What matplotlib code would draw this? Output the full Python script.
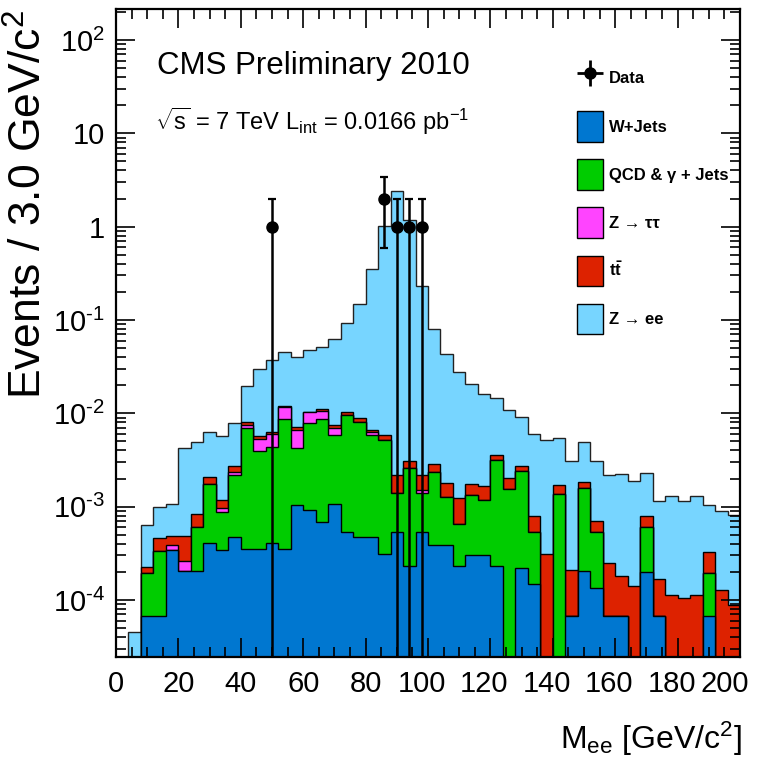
import numpy as np
import matplotlib
matplotlib.use("Agg")
import matplotlib.pyplot as plt
import matplotlib.transforms as mtransforms
from matplotlib.lines import Line2D
from matplotlib.patches import Patch
from matplotlib.legend_handler import HandlerTuple
from matplotlib.font_manager import FontProperties
from matplotlib.ticker import MultipleLocator, FixedLocator, FixedFormatter, NullFormatter, LogLocator

FAMILY = ["Liberation Sans", "DejaVu Sans"]
plt.rcParams["font.family"] = FAMILY
plt.rcParams["mathtext.fontset"] = "custom"
plt.rcParams["mathtext.rm"] = "Liberation Sans"
plt.rcParams["mathtext.it"] = "Liberation Sans:italic"
plt.rcParams["mathtext.bf"] = "Liberation Sans:bold"

# 4 GeV bins from 0 to 200
bin_edges = np.arange(0, 204, 4)

# stacked MC components, bottom to top (events per bin)
w_jets = [0, 0, 6.7e-5, 6.7e-5, 3.4e-4, 2.03e-4, 2.03e-4, 4.1e-4, 3.46e-4, 4.7e-4,
          3.5e-4, 3.5e-4, 4.1e-4, 3.5e-4, 1.03e-3, 9.1e-4, 6.8e-4, 1.06e-3, 5.4e-4, 4.7e-4,
          4.7e-4, 3.1e-4, 5.3e-4, 2.3e-4, 5.3e-4, 3.9e-4, 3.9e-4, 2.3e-4, 3.05e-4, 3.05e-4,
          2.3e-4, 0, 2.2e-4, 1.47e-4, 0, 0, 6.8e-5, 2.06e-4, 1.36e-4, 6.8e-5,
          6.8e-5, 0, 2.0e-4, 6.8e-5, 0, 0, 0, 6.8e-5, 0, 0]
qcd_gamma = [0, 0, 1.27e-4, 2.65e-4, 0, 0, 4.02e-4, 1.34e-3, 5.23e-4, 1.70e-3,
             6.6e-3, 3.63e-3, 3.92e-3, 8.4e-3, 3.22e-3, 6.96e-3, 8.1e-3, 4.75e-3, 9.1e-3, 7.7e-3,
             5.43e-3, 4.9e-3, 8.7e-4, 2.37e-3, 8.7e-4, 1.95e-3, 8.7e-4, 4.3e-4, 1.03e-3, 8.6e-4,
             2.95e-3, 1.54e-3, 2.2e-3, 3.9e-4, 0, 1.36e-3, 0, 1.36e-3, 3.94e-4, 0,
             0, 0, 4.0e-4, 0, 0, 0, 0, 1.26e-4, 0, 0]
z_tautau = [0, 0, 0, 0, 5.2e-5, 5.7e-5, 0, 0, 9.9e-5, 1.6e-4,
            4.6e-4, 1.33e-3, 1.72e-3, 2.9e-3, 2.43e-3, 2.4e-3, 1.9e-3, 1.14e-3, 0, 0,
            4e-4, 0, 0, 0, 1.1e-4, 0, 0, 0, 0, 0,
            0, 0, 0, 0, 0, 0, 0, 0, 0, 0,
            0, 0, 0, 0, 0, 0, 0, 0, 0, 0]
ttbar = [0, 0, 3.2e-5, 1.26e-4, 9.7e-5, 2.29e-4, 2.36e-4, 3.4e-4, 2.2e-4, 3.7e-4,
         6.4e-4, 4.0e-4, 2.0e-4, 3e-4, 4.6e-4, 1e-4, 5e-4, 6e-4, 8e-4, 7e-4,
         3.7e-4, 6e-4, 7.6e-4, 4.6e-4, 6.5e-4, 5.2e-4, 5.3e-4, 5.9e-4, 4.2e-4, 4.8e-4,
         4.2e-4, 4.8e-4, 3.2e-4, 2.6e-4, 3.1e-4, 3.3e-4, 1.43e-4, 2.5e-4, 1.65e-4, 1.8e-4,
         1.14e-4, 1.4e-4, 2.0e-4, 9.9e-5, 1.14e-4, 1.05e-4, 1.14e-4, 1.29e-4, 1.29e-4, 8.9e-5]
z_ee = [0, 4.5e-5, 4.05e-4, 5.4e-4, 5.9e-4, 3.76e-3, 4.09e-3, 4.22e-3, 4.48e-3, 5.1e-3,
        1.17e-2, 2.44e-2, 3.1e-2, 3.31e-2, 3.3e-2, 3.77e-2, 4.0e-2, 5.56e-2, 8.15e-2, 0.141,
        0.344, 1.019, 2.39, 1.187, 0.2274, 7.7e-2, 4.13e-2, 2.68e-2, 1.88e-2, 1.45e-2,
        1.1e-2, 8.9e-3, 6.3e-3, 5.15e-3, 4.82e-3, 3.74e-3, 2.89e-3, 3.06e-3, 2.41e-3, 1.93e-3,
        2.07e-3, 1.76e-3, 1.52e-3, 9.9e-4, 1.2e-3, 1.05e-3, 1.18e-3, 7.1e-4, 7.75e-4, 7.16e-4]

labels = ["W+Jets", "QCD & \u03b3 + Jets", "Z \u2192 \u03c4\u03c4", r"$\mathbf{t\bar{t}}$", "Z \u2192 ee"]
colors = ["#0077D0", "#00CC00", "#FF44FF", "#DD2200", "#77D5FF"]

# data points
data_x = [50, 86, 90, 94, 98]
data_y = [1, 2, 1, 1, 1]
data_err = [1.0, 1.41, 1.0, 1.0, 1.0]

xtick_values = list(range(0, 201, 20))
ytick_values = [1e-4, 1e-3, 1e-2, 1e-1, 1, 10, 100]
ytick_labels = [r"$\mathregular{10^{\text{-4}}}$", r"$\mathregular{10^{\text{-3}}}$",
                r"$\mathregular{10^{\text{-2}}}$", r"$\mathregular{10^{\text{-1}}}$",
                "1", "10", r"$\mathregular{10^{2}}$"]

fig = plt.figure(figsize=(7.64, 7.68), dpi=100)
ax = fig.add_axes([116 / 764, 1 - 657 / 768, 624 / 764, 648 / 768])
ax.set_yscale("log")

layers = np.vstack([w_jets, qcd_gamma, z_tautau, ttbar, z_ee])
cum = np.cumsum(layers, axis=0)
# draw cumulative histograms from the top one down, like a THStack
for k in range(len(layers) - 1, -1, -1):
    ax.stairs(cum[k], bin_edges, baseline=1e-8, fill=True, facecolor=colors[k],
              edgecolor="#222222" if k == 4 else "black", linewidth=1.0, zorder=1 + 0.1 * (5 - k))

ax.errorbar(data_x, data_y, yerr=data_err, fmt="o", color="black", ms=8,
            elinewidth=1.8, capsize=3, capthick=1.6, zorder=5)

ax.set_xlim(0, 200)
ax.set_ylim(2.45e-5, 215)
ax.set_axisbelow(False)

ax.xaxis.set_major_locator(FixedLocator(xtick_values))
ax.xaxis.set_minor_locator(MultipleLocator(5))
ax.yaxis.set_major_locator(FixedLocator(ytick_values))
ax.yaxis.set_major_formatter(FixedFormatter(ytick_labels))
ax.yaxis.set_minor_locator(LogLocator(base=10, subs=np.arange(2, 10)))
ax.yaxis.set_minor_formatter(NullFormatter())

ax.tick_params(which="both", direction="in", top=True, right=True, width=1.2)
ax.tick_params(which="major", length=14, labelsize=21)
ax.tick_params(which="minor", length=7)
ax.tick_params(axis="x", which="major", pad=9)
ax.tick_params(axis="y", which="major", pad=8)
for sp in ax.spines.values():
    sp.set_linewidth(1.6)
    sp.set_zorder(20)

# three-digit labels sit a little left of their ticks, as in the original
for val, lab in zip(xtick_values, ax.get_xticklabels()):
    dx = -15 if val == 200 else (-6 if val >= 100 else 0)
    lab.set_transform(lab.get_transform() + mtransforms.Affine2D().translate(dx, 0))

ax.set_xlabel(r"M$_{\mathregular{ee}}$ [GeV/c$^{\mathregular{2}}$]", fontsize=23, loc="right")
ax.xaxis.set_label_coords(1.003, -0.097)
ax.set_ylabel(r"Events / 3.0 GeV/c$^{\mathregular{2}}$", fontsize=32, loc="top")
ax.yaxis.set_label_coords(-0.104, 0.998)

fig.text(157 / 764, 1 - 74 / 768, "CMS Preliminary 2010", fontsize=22.5, ha="left", va="baseline")
fig.text(155 / 764, 1 - 130 / 768,
         r"$\sqrt{\mathregular{s}}$ = 7 TeV L$_{\mathregular{int}}$ = 0.0166 pb$^{\mathregular{-1}}$",
         fontsize=17, ha="left", va="baseline")

data_handle = (Line2D([], [], marker="+", ms=19, mew=2, color="black", ls="none"),
               Line2D([], [], marker="o", ms=8, color="black", ls="none"))
handles = [data_handle] + [Patch(facecolor=c, edgecolor="black", linewidth=1.0) for c in colors]
ax.legend(handles, ["Data"] + labels, loc="upper left",
          bbox_to_anchor=(577 / 764, 1 - 63 / 768), bbox_transform=fig.transFigure,
          frameon=False, prop=FontProperties(family=FAMILY, weight="bold", size=12),
          handlelength=1.56, handleheight=2.45, labelspacing=1.05, handletextpad=0.36,
          borderpad=0, borderaxespad=0, handler_map={tuple: HandlerTuple(ndivide=1)})

fig.savefig("out.png", dpi=100)
